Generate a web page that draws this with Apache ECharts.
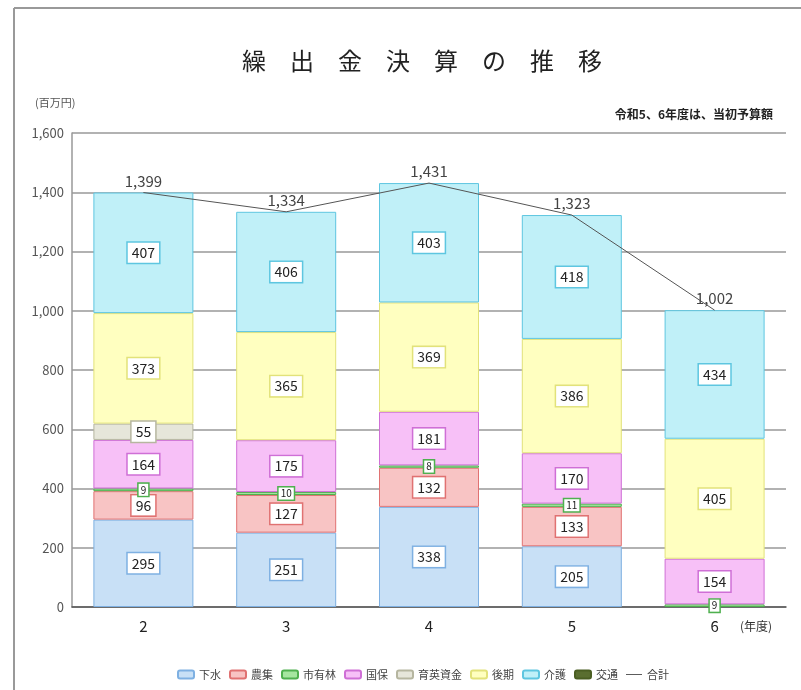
<!DOCTYPE html>
<html><head><meta charset="utf-8">
<script src="https://cdn.jsdelivr.net/npm/echarts@6/dist/echarts.min.js"></script>
<style>html,body{margin:0;padding:0;background:#fff}#c{width:801px;height:690px}</style>
</head><body><div id="c"></div>
<script>
const categories = ['2', '3', '4', '5', '6'];
const gesui   = [295, 251, 338, 205, null];   // 下水
const noshu   = [96, 127, 132, 133, null];    // 農集
const shiyurin= [9, 10, 8, 11, 9];            // 市有林
const kokuho  = [164, 175, 181, 170, 154];    // 国保
const ikuei   = [55, null, null, null, null]; // 育英資金
const koki    = [373, 365, 369, 386, 405];    // 後期
const kaigo   = [407, 406, 403, 418, 434];    // 介護
const kotsu   = [null, null, null, null, null]; // 交通
const totals  = [1399, 1334, 1431, 1323, 1002]; // 合計
const yTicks  = [0, 200, 400, 600, 800, 1000, 1200, 1400, 1600];

const FONT = '"Noto Sans CJK JP", "Noto Sans", sans-serif';
const seriesDefs = [
  {name:'下水', data:gesui, fill:'#c8e0f6', line:'#7eb0e2'},
  {name:'農集', data:noshu, fill:'#f8c4c4', line:'#e07272'},
  {name:'市有林', data:shiyurin, fill:'#a6e6a0', line:'#4fb04f'},
  {name:'国保', data:kokuho, fill:'#f7c0f7', line:'#cf6fd6'},
  {name:'育英資金', data:ikuei, fill:'#e6e6da', line:'#b6b6a0'},
  {name:'後期', data:koki, fill:'#ffffc0', line:'#e2e27a'},
  {name:'介護', data:kaigo, fill:'#c0f0f8', line:'#5ec6e0'},
  {name:'交通', data:kotsu, fill:'#5a6e30', line:'#4a5e22'}
];
const fmt = v => String(v).replace(/\B(?=(\d{3})+(?!\d))/g, ',');

const series = seriesDefs.map(s => ({
  name: s.name, type: 'bar', stack: 'all', barWidth: 100,
  itemStyle: {color: s.fill, borderColor: s.line, borderWidth: 1},
  data: s.data.map(v => {
    if (v == null) return null;
    const small = v < 20;
    return {
      value: v,
      label: {
        show: true, position: 'inside', formatter: '{c}',
        fontFamily: FONT, color: '#222',
        fontSize: small ? 10 : 14,
        backgroundColor: '#fff', borderColor: s.line, borderWidth: 1.5,
        padding: small ? [0, 2, 0, 2] : [3, 4, 1, 4],
        lineHeight: small ? 12 : 16
      }
    };
  })
}));
series.push({
  name: '合計', type: 'line', data: totals, symbol: 'circle', symbolSize: 0,
  lineStyle: {color: '#555', width: 1}, itemStyle: {color: '#555'},
  label: {show: true, position: 'top', distance: 4, formatter: p => fmt(p.value),
    fontFamily: FONT, fontSize: 15, color: '#444'},
  z: 5
});

const chart = echarts.init(document.getElementById('c'));
chart.setOption({
  animation: false,
  textStyle: {fontFamily: FONT},
  title: {text: '繰　出　金　決　算　の　推　移', left: 237, top: 44,
    textStyle: {fontSize: 24, fontWeight: 'normal', color: '#222', fontFamily: FONT}},
  graphic: [
    {type: 'line', shape: {x1: 14, y1: 8, x2: 801, y2: 8}, style: {stroke: '#999', lineWidth: 2}},
    {type: 'line', shape: {x1: 14, y1: 8, x2: 14, y2: 690}, style: {stroke: '#999', lineWidth: 2}},
    {type: 'text', left: 35, top: 97, style: {text: '(百万円)', fontSize: 11, fill: '#555', fontFamily: FONT}},
    {type: 'text', right: 28, top: 108, style: {text: '令和5、6年度は、当初予算額', fontSize: 12, fontWeight: 'bold', fill: '#222', fontFamily: FONT}},
    {type: 'text', left: 740, top: 620, style: {text: '(年度)', fontSize: 12, fill: '#333', fontFamily: FONT}}
  ],
  legend: {
    bottom: 5, left: 172, itemWidth: 16, itemHeight: 8, itemGap: 8,
    textStyle: {fontSize: 11, color: '#444', fontFamily: FONT},
    data: seriesDefs.map(s => s.name).concat([{name: '合計', icon: 'path://M0,0H20V1.2H0Z'}])
  },
  grid: {left: 72, right: 15, top: 133, bottom: 83},
  xAxis: {
    type: 'category', data: categories,
    axisLine: {lineStyle: {color: '#555', width: 1.5}},
    axisTick: {show: false},
    axisLabel: {fontSize: 15, color: '#222', margin: 12, fontFamily: FONT}
  },
  yAxis: {
    type: 'value', min: yTicks[0], max: yTicks[yTicks.length - 1], interval: 200,
    axisLine: {show: true, lineStyle: {color: '#999', width: 1.5}},
    axisTick: {show: false},
    splitLine: {lineStyle: {color: '#999', width: 1.5}},
    axisLabel: {fontSize: 13, color: '#555', margin: 8, formatter: v => fmt(v), fontFamily: FONT}
  },
  series: series
});
</script></body></html>
